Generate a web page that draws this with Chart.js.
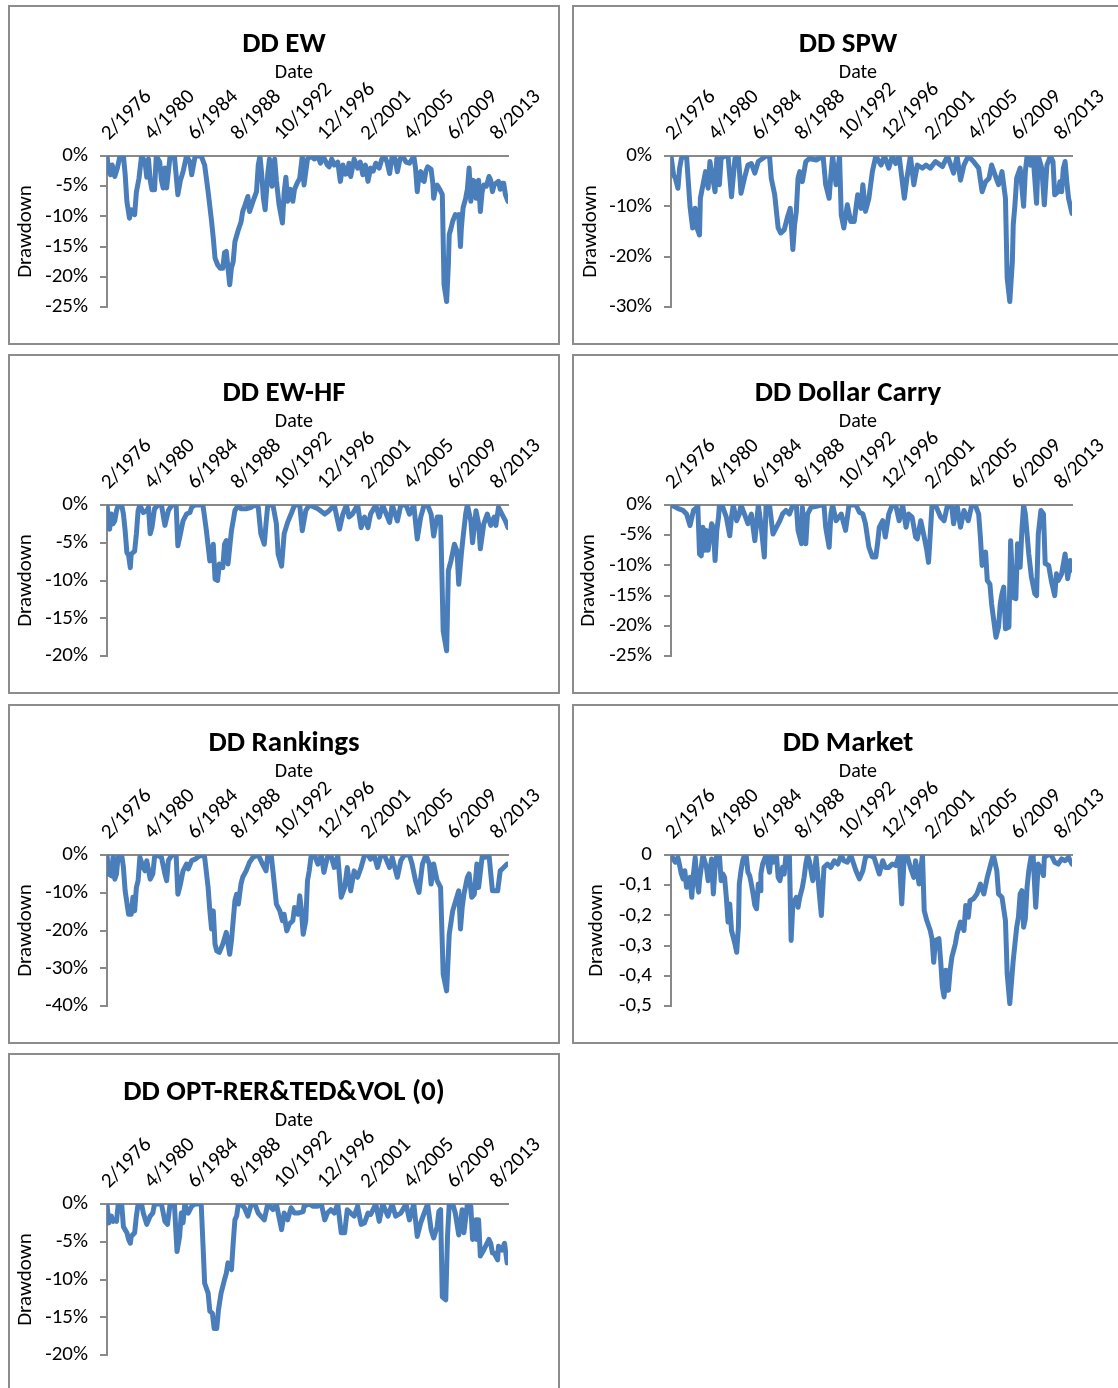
<!DOCTYPE html>
<html>
<head>
<meta charset="utf-8">
<script src="https://cdn.jsdelivr.net/npm/chart.js@4.4.1/dist/chart.umd.min.js"></script>
<style>
  html, body { margin: 0; padding: 0; background: #fff; overflow: hidden; width: 1118px; height: 1388px; }
  .panel { position: absolute; width: 552px; height: 340px; box-sizing: border-box; border: 2px solid #8c8c8c; background: #fff; }
  .panel canvas { position: absolute; left: 0; top: 0; }
</style>
</head>
<body>
<div class="panel" style="left:8px;top:5px"><canvas id="ddEw" width="548" height="336"></canvas></div>
<div class="panel" style="left:572px;top:5px"><canvas id="ddSpw" width="548" height="336"></canvas></div>
<div class="panel" style="left:8px;top:354px"><canvas id="ddEwHf" width="548" height="336"></canvas></div>
<div class="panel" style="left:572px;top:354px"><canvas id="ddCarry" width="548" height="336"></canvas></div>
<div class="panel" style="left:8px;top:704px"><canvas id="ddRank" width="548" height="336"></canvas></div>
<div class="panel" style="left:572px;top:704px"><canvas id="ddMarket" width="548" height="336"></canvas></div>
<div class="panel" style="left:8px;top:1053px"><canvas id="ddOpt" width="548" height="336"></canvas></div>

<script>
// month index 0 = 2/1976
const dateLabels = ['2/1976', '4/1980', '6/1984', '8/1988', '10/1992', '12/1996', '2/2001', '4/2005', '6/2009', '8/2013'];
const tickMonths = [0, 50, 100, 150, 200, 250, 300, 350, 400, 450];
const lastMonth = 464;

// [month, drawdown %]
const ewPoints = [[0,0],[2,-2.5],[4,-3.1],[6,-1.5],[9,-3.4],[12,-2],[15,0],[19,0],[21,-3],[23,-7.5],[26,-10.3],[28,-8.9],[30,-9.5],[32,-9.7],[34,-6],[37,-3.7],[40,0],[44,-1],[46,-3.5],[48,-0.5],[50,-4],[52,-5.6],[55,-5.6],[57,0],[61,-1],[63,-4],[65,-5.3],[67,-2],[69,-5.3],[73,0],[78,0],[82,-6.4],[85,-4],[88,-2.6],[92,0],[96,-1],[98,-3.1],[102,0],[109,0],[113,-1.5],[117,-5.9],[121,-10.8],[123,-13.6],[125,-16.9],[128,-18],[131,-18.6],[134,-18.6],[136,-16],[138,-15.8],[140,-18.5],[142,-21.3],[144,-18.5],[146,-17.5],[148,-14.2],[152,-12.2],[155,-11],[157,-9.2],[160,-8],[163,-6.7],[165,-9.2],[169,-7.5],[173,-5.9],[175,-1.5],[177,0],[179,-3],[181,-7],[183,-8.9],[186,-3],[188,-0.5],[191,-5],[194,-0.5],[196,-4],[199,-8],[203,-11.1],[205,-6],[207,-3.5],[209,-7.5],[212,-5.5],[215,-7.5],[217,-5.5],[220,-4.5],[223,-3.7],[226,0],[228,-4.8],[232,-0.5],[236,0],[240,-0.5],[244,0],[247,-1.2],[250,0],[255,-1.5],[257,-1.8],[260,-0.5],[263,-1.5],[267,-1],[270,-4.2],[273,-1.5],[276,-3],[278,-2.9],[280,-1.2],[282,-3.4],[286,-0.5],[290,-2],[293,-1],[296,-3.1],[299,-1.5],[302,-4.2],[305,-2],[308,-2.5],[311,-1.2],[315,-2],[318,-0.5],[321,0],[324,-1],[327,-2.9],[330,0],[332,0],[334,-1],[336,-2.6],[339,-0.5],[342,0],[346,-1],[350,-1.2],[353,-0.5],[355,0],[357,-2],[359,-5.9],[361,-3],[363,-2.6],[365,-4],[367,-4.2],[369,-2.5],[371,-1.8],[373,-2],[375,-2.2],[377,-4.5],[378,-7],[380,-5.5],[382,-4.8],[385,-5.5],[388,-6.4],[390,-21.3],[393,-24.1],[395,-18],[396,-13],[398,-12],[400,-10.8],[403,-9.7],[405,-9.9],[407,-9.7],[409,-15],[410,-12],[412,-8.6],[415,-7],[417,-5.5],[419,-2],[421,-7.5],[423,-4],[425,-4.2],[427,-7],[428,-6.4],[430,-4],[432,-9.2],[434,-6],[436,-4.8],[439,-5],[442,-3.4],[444,-4],[446,-5.9],[448,-4.8],[450,-4.5],[453,-4.2],[455,-5.5],[457,-4.5],[459,-4.5],[461,-6.4],[464,-7.5]];

const spwPoints = [[0,0],[3,-3.8],[5,-4.4],[8,-6.4],[10,-2.4],[12,-0.5],[16,0],[18,0],[22,-10],[25,-14.3],[28,-10.4],[30,-14.3],[33,-15.7],[34,-8.4],[37,-5.7],[40,-3.1],[43,-6.4],[45,-1.1],[51,-7.1],[53,-0.5],[56,-5.7],[58,-0.5],[62,0],[66,0],[70,-8.1],[74,-0.5],[78,0],[81,-7.4],[85,-4.4],[89,-1.8],[93,-1.5],[97,-3.4],[101,-1.1],[106,-0.5],[110,0],[114,0],[116,-4.4],[120,-7.7],[122,-11],[124,-14.3],[127,-15.3],[131,-14.7],[135,-12],[138,-10.4],[141,-18.6],[143,-13.7],[145,-11],[147,-4.4],[149,-3.1],[152,-5.1],[156,-1.1],[160,-0.5],[168,-0.8],[176,0],[179,-5.7],[183,-8.4],[185,-3.8],[187,0],[191,-5.7],[195,0],[197,-11.7],[200,-14.3],[204,-9.7],[208,-13],[212,-13],[216,-7.7],[220,-10.4],[222,-5.7],[225,-11],[229,-8.4],[233,-3.1],[237,0],[243,-1.8],[247,0],[252,-2.4],[256,0],[260,-1.5],[264,0],[270,-8.4],[273,-4.4],[277,0],[281,-5.7],[285,-1.8],[291,-2.4],[295,-1.8],[300,-2.4],[306,-1.1],[314,-2.1],[320,0],[327,-3.4],[331,0],[335,-4.8],[339,-1.8],[344,0],[350,-1.1],[356,-2.4],[360,-7.1],[364,-5.1],[368,-4.4],[371,-1.8],[375,-3.8],[379,-5.7],[383,-3.1],[387,-8.4],[389,-24.3],[392,-28.9],[395,-21],[396,-13.7],[398,-9.7],[400,-4.4],[404,-2.4],[408,-10],[410,-3.1],[412,0],[416,-1.8],[419,0],[423,-9.4],[425,0],[429,-2.4],[432,-9.7],[435,-1.8],[439,0],[442,-1.1],[444,-7.7],[448,-7.1],[450,-5.1],[452,-7.1],[454,-2.4],[456,-1.1],[458,-5.1],[460,-8.4],[464,-11.4]];

const ewHfPoints = [[0,0],[3,-3.2],[5,-1.2],[7,-2.5],[9,-2.1],[11,-0.75],[13,0],[17,0],[19,-1.2],[21,-3.4],[23,-6.3],[25,-6.7],[27,-8.3],[28,-6.5],[32,-6.1],[34,-3.8],[36,-0.75],[38,0],[42,-1],[46,-0.75],[48,-0.3],[50,-3.8],[52,-3],[55,-0.5],[59,0],[63,0],[67,-2.7],[71,-0.75],[75,0],[80,0],[82,-5.4],[85,-3.8],[88,-2.1],[92,-1.2],[96,-1],[98,-0.3],[102,0],[111,0],[115,-3.4],[119,-7.4],[123,-5.2],[125,-9.8],[128,-10],[130,-7.8],[134,-8.3],[136,-5.2],[138,-4.7],[140,-7.8],[144,-3.4],[146,-2.1],[148,-0.75],[152,0],[155,-0.5],[161,-0.5],[167,-0.3],[171,0],[175,-0.3],[178,-3.8],[182,-5.2],[184,-2.5],[186,0],[192,0],[196,-2.5],[198,-6.5],[202,-8.1],[205,-3.8],[209,-2.3],[213,-1.2],[217,0],[223,0],[226,-3.4],[230,-0.75],[234,0],[244,-0.5],[252,-1.2],[257,-0.75],[263,0],[269,-3.2],[273,-1.2],[277,0],[280,-1.6],[284,-1.2],[290,0],[294,-3],[298,-1.6],[302,-3],[305,-1.2],[311,0],[315,-1.6],[319,0],[327,-2.3],[330,0],[336,-2.1],[340,0],[346,0],[350,-1.2],[355,0],[359,-4.5],[363,-1.6],[367,0],[371,0],[375,-1.2],[378,-4.1],[382,-1.6],[386,-1.6],[389,-16.7],[393,-19.3],[395,-8.7],[398,-7.4],[402,-5.2],[405,-6.1],[407,-10.5],[410,-6.5],[412,-4.3],[415,-1.2],[417,0],[421,-2.1],[423,-5],[427,-0.75],[430,-2.5],[432,-5.8],[436,-2.5],[440,-1.2],[444,-2.7],[448,-1.6],[450,-2.7],[453,-0.3],[457,-1.2],[461,-2.1],[464,-3]];

const dollarCarryPoints = [[0,0],[6,-0.4],[10,-0.7],[14,-0.9],[18,-1.5],[22,-3.4],[26,-0.9],[30,-0.4],[31,0],[33,-8.1],[35,-8.4],[37,-3.7],[39,-7.5],[41,-4.2],[43,-7.5],[45,-5.3],[47,-3.1],[49,-3.7],[51,-9.2],[53,-4.2],[55,-2],[56,0],[60,-0.4],[64,-2],[68,-5.1],[70,-2],[72,0],[76,-2.6],[79,-1.5],[81,0],[85,-1.5],[89,-3.1],[93,-1.5],[97,-5.9],[99,-3.1],[101,0],[104,-3.1],[108,-8.6],[110,0],[114,0],[118,-4.8],[122,-3.7],[126,-2.6],[129,-1.5],[133,-0.9],[137,-1.5],[141,0],[145,0],[147,-4.2],[151,-6.4],[152,-0.4],[156,-6.4],[158,-1.5],[162,-0.4],[168,-0.2],[174,0],[177,0],[179,-3.7],[183,-7],[185,-1.5],[187,0],[191,-2.6],[197,-1.5],[202,-4.2],[206,0],[214,0],[218,-1.2],[222,-1.5],[225,-3.1],[229,-7],[233,-8.6],[237,-8.6],[239,-6.4],[241,-3.7],[245,-2.6],[248,-5.3],[252,-1.5],[256,0],[260,0],[264,-2.6],[268,0],[272,-3.7],[275,-1.5],[279,-2],[283,-5.3],[285,-5.6],[289,-2.6],[293,-5.3],[296,-7.5],[298,-9.5],[300,-4.8],[302,0],[306,0],[312,-2],[316,-2.6],[320,0],[325,-0.4],[327,-3.1],[331,0],[335,-3.7],[339,-0.9],[344,-2.6],[348,0],[352,0],[356,-1.5],[358,-5.3],[360,-10],[364,-7.8],[366,-12.5],[369,-13.1],[371,-16.4],[373,-18.6],[376,-21.9],[379,-20.2],[381,-16.4],[383,-14.7],[385,-13.6],[387,-20.5],[391,-20.2],[393,-5.9],[396,-15.3],[399,-15.5],[401,-6.4],[404,-10.3],[406,-4.2],[408,0],[410,-1.5],[414,-8.1],[417,-11.9],[421,-14.7],[423,-15],[425,-4.8],[428,-0.9],[431,-1.5],[433,-9.7],[437,-10],[440,-12.5],[444,-15],[446,-11.4],[448,-12.5],[452,-11.4],[456,-8.1],[459,-12.2],[462,-9.2],[464,-10.8]];

const rankingsPoints = [[0,0],[2,-5],[5,-5.5],[7,-0.6],[9,-6.4],[11,-5],[13,0],[17,0],[19,-3.3],[21,-9.5],[25,-15.7],[27,-14.8],[28,-15.7],[30,-11.2],[32,-14.8],[34,-8.6],[36,-6.8],[38,-0.6],[42,-3.3],[44,-4.2],[46,-1.5],[50,-6.4],[53,-5],[55,-0.6],[57,0],[63,-0.6],[67,-5],[69,-6.8],[71,-1.5],[75,0],[80,0],[82,-10.4],[85,-7.7],[88,-4.2],[92,-2.4],[94,-3.7],[98,-1.5],[102,-1.1],[105,-0.6],[109,0],[113,-0.6],[117,-8.6],[119,-14.8],[121,-19.6],[123,-14.8],[125,-23.6],[127,-25.4],[130,-25.8],[134,-23.6],[138,-20.5],[142,-26.3],[144,-22.7],[146,-17.4],[148,-12.1],[150,-10.4],[152,-13],[155,-7.7],[157,-5.9],[161,-4.2],[165,-1.9],[169,-0.6],[175,0],[180,-2.4],[184,-4.2],[186,0],[190,0],[192,-4.2],[196,-13],[200,-14.8],[203,-17.4],[205,-15.7],[208,-20.1],[211,-18.3],[215,-17.4],[217,-13.9],[221,-15.7],[223,-10.8],[225,-14.8],[227,-21],[230,-17.4],[232,-6.8],[234,-4.2],[236,-0.6],[240,0],[244,-2.4],[248,0],[251,-4.6],[255,-0.6],[259,0],[263,-3.3],[267,0],[271,-11.2],[275,-8.6],[278,-3.3],[282,-9.5],[286,-4.2],[290,-5.9],[294,-3.3],[298,0],[302,0],[305,-1.1],[309,0],[313,-3.3],[317,0],[321,0],[327,-3.3],[330,-0.6],[336,-5.9],[340,-1.5],[344,0],[350,0],[353,-2.4],[357,-6.8],[361,-9.9],[365,-2.4],[369,0],[373,-2.4],[375,-7.7],[378,-2.4],[382,-6.8],[386,-8.6],[389,-31.6],[393,-36],[396,-21],[400,-14.8],[404,-11.7],[407,-9.5],[409,-19.6],[411,-13.9],[413,-10.4],[417,-5.9],[419,-5],[422,-11.2],[425,-10.4],[428,-2.4],[430,-8.6],[434,-0.6],[438,-0.6],[442,0],[446,-9.5],[450,-9.5],[452,-9.5],[455,-4.2],[459,-3.3],[463,-2.4]];

// [month, drawdown as fraction]
const marketPoints = [[0,0],[5,-0.024],[8,-0.008],[10,-0.035],[12,-0.063],[14,-0.079],[16,-0.052],[18,-0.107],[22,-0.074],[24,-0.14],[26,-0.063],[28,-0.008],[30,-0.085],[32,-0.123],[33,-0.085],[35,-0.041],[37,0],[41,-0.041],[43,-0.085],[45,-0.052],[47,-0.013],[49,-0.129],[51,-0.041],[53,0],[55,-0.019],[56,0],[58,-0.085],[60,-0.063],[62,-0.074],[64,-0.14],[66,-0.222],[68,-0.162],[70,-0.25],[72,-0.272],[74,-0.294],[76,-0.322],[78,-0.239],[79,-0.096],[81,-0.052],[83,-0.019],[85,0],[87,0],[89,-0.057],[91,-0.068],[93,-0.096],[95,-0.129],[97,-0.167],[99,-0.178],[101,-0.096],[103,-0.118],[104,-0.063],[106,-0.03],[110,0],[114,-0.057],[116,0],[118,-0.024],[122,0],[124,-0.074],[126,-0.085],[129,-0.041],[131,-0.063],[133,0],[137,0],[139,-0.283],[141,-0.162],[145,-0.14],[147,-0.173],[149,-0.14],[152,-0.107],[154,-0.074],[156,-0.03],[158,0],[160,-0.019],[164,-0.085],[166,-0.052],[168,-0.008],[172,-0.14],[174,-0.2],[177,-0.041],[181,-0.03],[185,-0.041],[189,-0.019],[193,-0.03],[197,0],[200,-0.019],[204,-0.024],[208,0],[214,-0.052],[218,-0.079],[222,-0.052],[225,-0.008],[229,0],[235,-0.008],[241,-0.063],[245,-0.019],[248,-0.041],[252,-0.041],[256,-0.03],[260,-0.035],[264,0],[267,-0.162],[270,0],[273,0],[277,-0.041],[281,-0.074],[283,-0.019],[287,-0.096],[291,0],[293,-0.184],[296,-0.217],[300,-0.25],[302,-0.277],[304,-0.355],[306,-0.283],[310,-0.277],[312,-0.349],[314,-0.437],[316,-0.47],[318,-0.382],[321,-0.448],[323,-0.382],[325,-0.338],[329,-0.294],[331,-0.261],[335,-0.222],[339,-0.25],[341,-0.167],[344,-0.206],[346,-0.151],[350,-0.145],[354,-0.129],[358,-0.096],[362,-0.129],[366,-0.074],[370,-0.03],[373,0],[377,-0.052],[379,-0.129],[383,-0.14],[387,-0.217],[389,-0.393],[392,-0.492],[396,-0.349],[398,-0.294],[400,-0.239],[402,-0.206],[404,-0.129],[406,-0.118],[408,-0.239],[410,-0.211],[412,-0.107],[414,-0.052],[417,0],[419,0],[422,-0.173],[425,-0.03],[429,-0.052],[431,-0.068],[432,-0.008],[436,0],[440,0],[444,-0.024],[448,-0.03],[452,-0.013],[456,-0.019],[460,-0.008],[464,-0.03]];

const optPoints = [[0,0],[2,-2.5],[5,-1.6],[7,-2.3],[9,-2.1],[11,-2.3],[13,0],[17,0],[19,-3],[23,-3.8],[25,-4.7],[27,-5.2],[28,-4.3],[32,-3.8],[34,-1.6],[36,0],[40,0],[42,-1.2],[46,-2.7],[50,-1.6],[53,-1.2],[55,0],[63,0],[67,-2.3],[70,-2.7],[73,0],[78,0],[81,-6.3],[84,-4.3],[86,-1.2],[88,-2.5],[90,0],[94,-1.2],[98,-0.3],[102,0],[109,0],[111,-5.2],[113,-10.5],[117,-11.8],[119,-14.2],[122,-14.5],[124,-16.5],[127,-16.5],[129,-14],[132,-11.8],[134,-10.9],[136,-10],[138,-9.2],[140,-7.8],[144,-8.7],[146,-5.2],[148,-2.1],[150,-1.6],[152,0],[155,0],[159,-0.5],[163,-1.6],[167,0],[171,0],[175,-1.2],[178,-1.6],[182,-2.1],[186,0],[192,-0.75],[196,0],[202,-3.4],[205,-1.2],[209,-2.1],[213,-0.5],[217,-1.2],[221,-1.2],[227,-1],[228,-0.3],[234,0],[238,-0.3],[244,-0.3],[248,0],[252,-2.1],[255,-1.2],[259,-0.75],[263,-1.2],[267,0],[271,-3.8],[275,-3.8],[278,-0.75],[282,-1.2],[286,-1.6],[290,-0.3],[294,-2.7],[298,-2.5],[302,-1.2],[305,-1.4],[311,0],[315,-2.3],[319,0],[325,-1.6],[330,0],[334,-1.6],[340,-1.2],[346,0],[350,-2.1],[355,0],[359,-4.3],[363,-2.5],[367,-1.2],[371,0],[375,-3.4],[378,-4.5],[382,-3],[384,-1],[386,-0.75],[388,-12.3],[392,-12.7],[394,-4.3],[396,0],[400,0],[403,-1.2],[407,-4.1],[411,-0.75],[413,-3.8],[417,0],[421,-0.3],[423,-4.7],[427,-2.1],[428,-4.7],[430,-2.1],[432,-6.9],[436,-6.1],[438,-5.6],[442,-4.7],[444,-5.2],[446,-6.5],[448,-6.5],[452,-7.4],[453,-5.6],[457,-6.1],[460,-5.2],[463,-7.8]];

const fontFamily = "Carlito, Calibri, Lato, 'Liberation Sans', sans-serif";
const axisGray = '#898989';
const lineBlue = '#4a7ebb';

function pctLabel(v) { return Math.round(v) + '%'; }
function commaLabel(v) { return Math.abs(v) < 1e-9 ? '0' : v.toFixed(1).replace('.', ','); }

function drawPanel(canvasId, title, points, yMin, yStep, fmt, yTitlePad) {
    new Chart(document.getElementById(canvasId), {
        type: 'line',
        data: {
            datasets: [{
                data: points,
                borderColor: lineBlue,
                borderWidth: 5,
                pointRadius: 0,
                tension: 0,
                borderJoinStyle: 'round',
                borderCapStyle: 'round'
            }]
        },
        options: {
            responsive: false,
            animation: false,
            devicePixelRatio: 1,
            layout: { padding: { left: 0, right: 0, top: 0, bottom: 36 } },
            plugins: {
                legend: { display: false },
                tooltip: { enabled: false },
                title: {
                    display: true,
                    text: title,
                    color: '#000',
                    font: { family: fontFamily, size: 29, weight: 'bold', lineHeight: 1 },
                    padding: { top: 23, bottom: 0 }
                }
            },
            scales: {
                x: {
                    type: 'linear',
                    position: 'top',
                    min: 0,
                    max: lastMonth,
                    afterBuildTicks: function(scale) {
                        scale.ticks = tickMonths.map(v => ({ value: v }));
                    },
                    afterFit: function(scale) { scale.height = 97; },
                    grid: { display: false, drawTicks: false },
                    border: { display: true, color: axisGray, width: 2 },
                    ticks: {
                        autoSkip: false,
                        minRotation: 45,
                        maxRotation: 45,
                        padding: 10,
                        labelOffset: 16,
                        color: '#000',
                        font: { family: fontFamily, size: 21 },
                        callback: function(value, index) { return dateLabels[index]; }
                    },
                    title: {
                        display: true,
                        text: 'Date      ',
                        color: '#000',
                        font: { family: fontFamily, size: 20 },
                        padding: { top: 2, bottom: 0 }
                    }
                },
                y: {
                    min: yMin,
                    max: 0,
                    afterFit: function(scale) { scale.width = 97; },
                    grid: { drawOnChartArea: false, drawTicks: true, tickLength: 7, color: axisGray, lineWidth: 2 },
                    border: { display: true, color: axisGray, width: 2 },
                    ticks: {
                        stepSize: yStep,
                        padding: 12,
                        color: '#000',
                        font: { family: fontFamily, size: 21 },
                        callback: fmt
                    },
                    title: {
                        display: true,
                        text: 'Drawdown',
                        color: '#000',
                        font: { family: fontFamily, size: 21 },
                        padding: { top: yTitlePad, bottom: 0 }
                    }
                },
                // empty right-hand block keeps the plot narrower than the panel
                spacer: {
                    position: 'right',
                    display: true,
                    afterFit: function(scale) { scale.width = 50; },
                    ticks: { display: false },
                    grid: { display: false },
                    border: { display: false }
                }
            }
        }
    });
}

drawPanel('ddEw', 'DD EW', ewPoints, -25, 5, pctLabel, 3);
drawPanel('ddSpw', 'DD SPW', spwPoints, -30, 10, pctLabel, 4);
drawPanel('ddEwHf', 'DD EW-HF', ewHfPoints, -20, 5, pctLabel, 3);
drawPanel('ddCarry', 'DD Dollar Carry', dollarCarryPoints, -25, 5, pctLabel, 2);
drawPanel('ddRank', 'DD Rankings', rankingsPoints, -40, 10, pctLabel, 3);
drawPanel('ddMarket', 'DD Market', marketPoints, -0.5, 0.1, commaLabel, 10);
drawPanel('ddOpt', 'DD OPT-RER&TED&VOL (0)', optPoints, -20, 5, pctLabel, 3);
</script>
</body>
</html>
